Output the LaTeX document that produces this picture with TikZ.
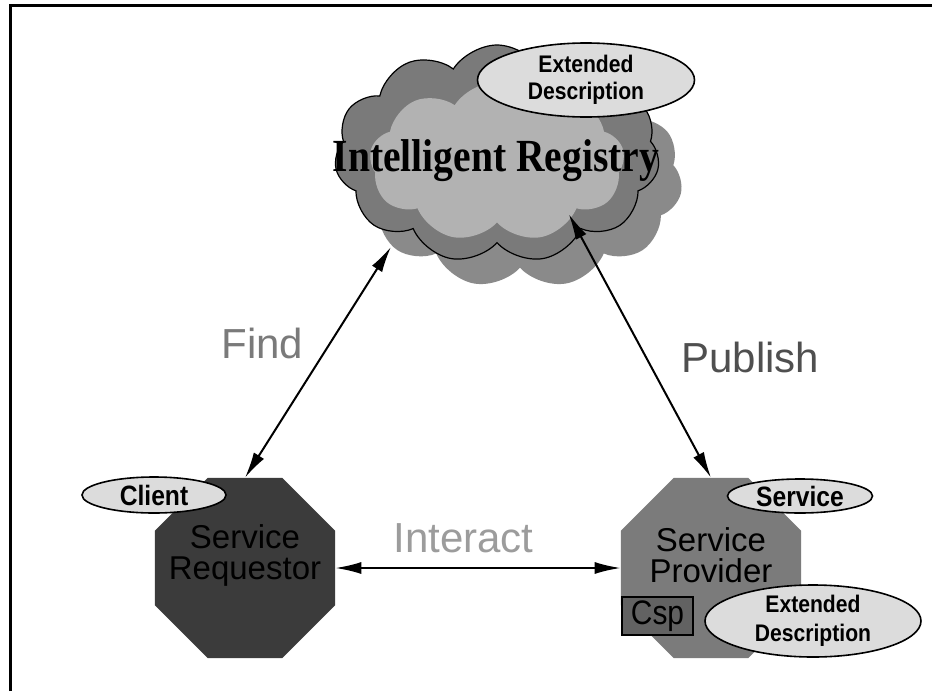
\documentclass[tikz,border=0pt]{standalone}
\usepackage{fontspec}
\setmainfont{Liberation Sans}
\newfontfamily\registryfont[FakeStretch=0.86]{Liberation Serif}
\newfontfamily\tagfont[FakeStretch=0.88]{Liberation Sans}
\usetikzlibrary{shapes.geometric,shapes.symbols,arrows.meta}

\definecolor{reqgray}{HTML}{3B3B3B}
\definecolor{provgray}{HTML}{7B7B7B}
\definecolor{cspgray}{HTML}{626262}
\definecolor{tagfill}{HTML}{DCDCDC}
\definecolor{shadowgray}{HTML}{8A8A8A}
\definecolor{ringgray}{HTML}{7A7A7A}
\definecolor{coregray}{HTML}{B2B2B2}
\definecolor{findgray}{HTML}{7A7A7A}
\definecolor{publishgray}{HTML}{4F4F4F}
\definecolor{interactgray}{HTML}{9C9C9C}

\begin{document}
\begin{tikzpicture}[x=1pt,y=-1pt,
  puffy/.style={cloud, cloud puffs=11, cloud puff arc=115, aspect=1.5, inner sep=0pt},
  octa/.style={regular polygon, regular polygon sides=8, minimum size=195pt, inner sep=0pt},
  tag/.style={ellipse, draw=black, line width=1.6pt, fill=tagfill, inner sep=-6pt, align=center},
  roletext/.style={font=\fontsize{33}{31}\selectfont, align=center, text=black},
  link/.style={{Latex[length=26pt,width=12pt]}-{Latex[length=26pt,width=12pt]}, line width=2pt},
  verb/.style={font=\fontsize{42}{42}\selectfont, anchor=base west}
]
\useasboundingbox (0,0) rectangle (932,691);
\fill[white] (0,0) rectangle (932,691);

% page frame (top and left edges)
\draw[line width=3pt] (10.5,691) -- (10.5,5.5) -- (932,5.5);

% registry cloud: drop shadow, outlined cloud, lighter core
\node[puffy, fill=shadowgray, minimum width=325pt, minimum height=220pt] (regshadow) at (520,178) {};
\node[puffy, fill=ringgray, draw=black, line width=1.2pt, minimum width=325pt, minimum height=218pt] (registry) at (497,154) {};
\node[puffy, cloud puffs=9, fill=coregray, minimum width=255pt, minimum height=160pt] (regcore) at (497,162) {};
\node[anchor=base, font=\registryfont\bfseries\fontsize{46}{46}\selectfont] (regtext) at (496,171) {Intelligent Registry};
\node[tag, minimum width=217pt, minimum height=74pt, font=\tagfont\bfseries\fontsize{24}{27}\selectfont] (regdesc) at (586,80) {Extended\\Description};

% the two parties
\node[octa, fill=reqgray] (req) at (245,568) {};
\node[octa, fill=provgray] (prov) at (711,568) {};
\node[roletext] (reqtext) at (245,555) {Service\\Requestor};
\node[roletext] (provtext) at (711,555) {Service\\Provider};

\node[draw=black, line width=2pt, fill=cspgray, minimum width=71pt, minimum height=38pt, inner sep=0pt,
      font=\tagfont\fontsize{34}{34}\selectfont] (csp) at (657.5,616) {Csp};

\node[tag, minimum width=144pt, minimum height=36pt, font=\tagfont\bfseries\fontsize{28}{28}\selectfont] (client) at (154,495) {Client};
\node[tag, minimum width=145pt, minimum height=34pt, font=\tagfont\bfseries\fontsize{28}{28}\selectfont] (service) at (800,496) {Service};
\node[tag, minimum width=216pt, minimum height=72pt, font=\tagfont\bfseries\fontsize{24}{29}\selectfont] (provdesc) at (813,621) {Extended\\Description};

% interactions
\draw[link] (req.east) -- (prov.west);
\draw[link, shorten >=17pt] (req.north) -- (registry.219);
\draw[link, shorten >=-22pt] (prov.north) -- (registry.316);

\node[verb, text=findgray] (find) at (218,358) {Find};
\node[verb, text=publishgray] (publish) at (678,372) {Publish};
\node[verb, text=interactgray] (interact) at (390,552) {Interact};
\end{tikzpicture}
\end{document}
